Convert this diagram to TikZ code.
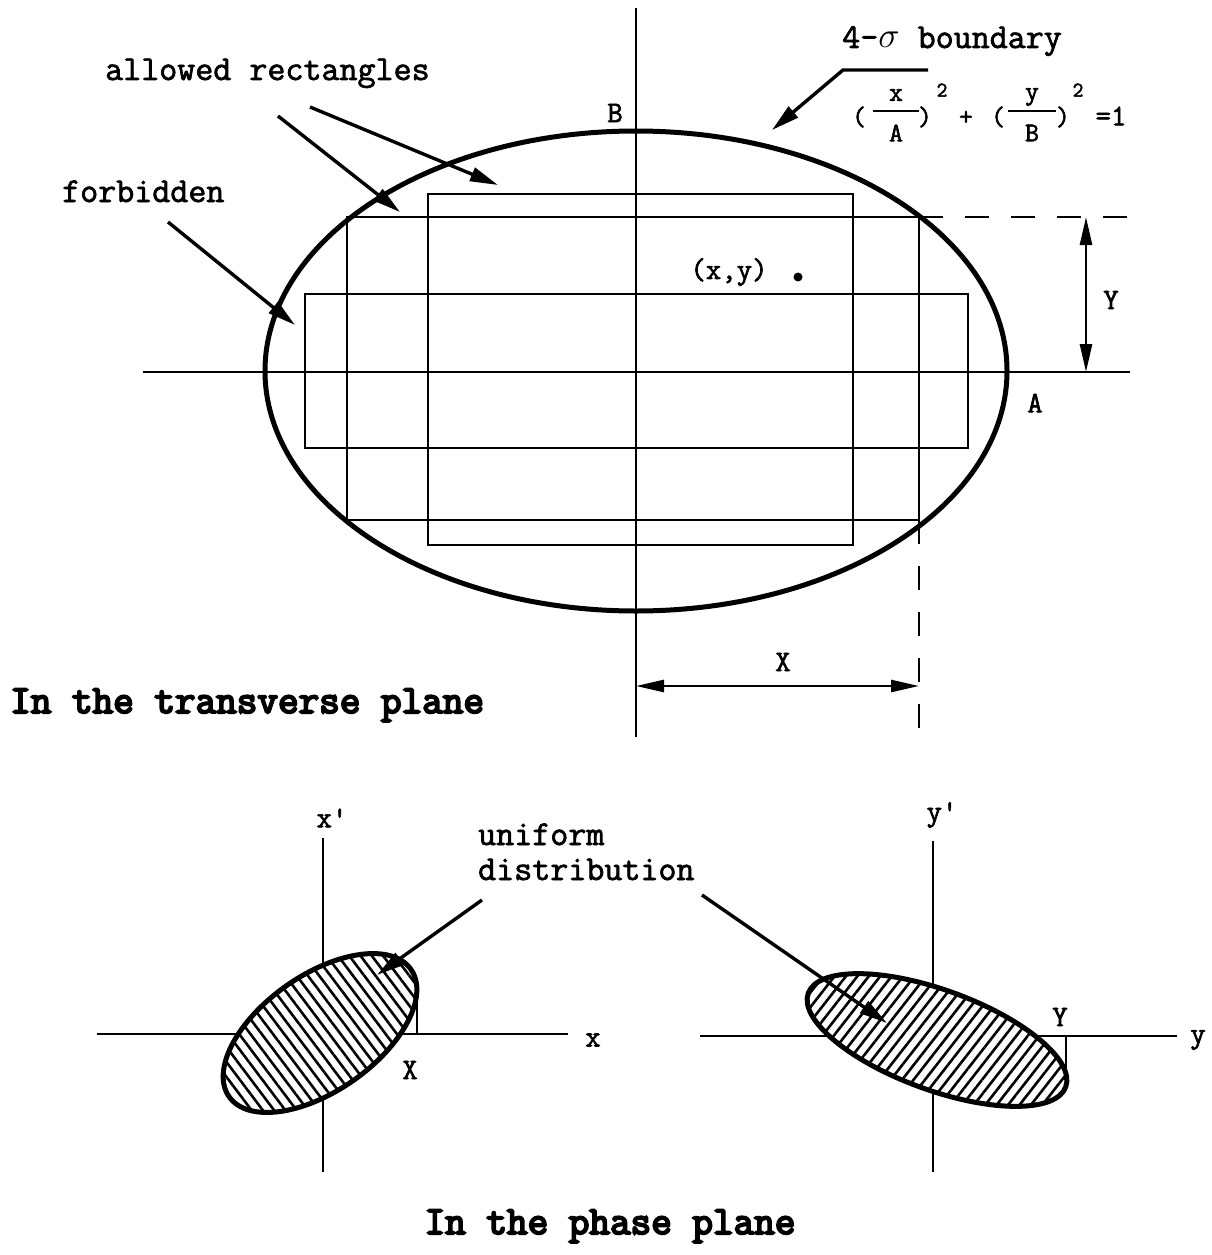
\documentclass[tikz,border=0pt]{standalone}
\usepackage{fontspec}
\newfontfamily\typefont{Latin Modern Mono}[FakeBold=2]
\newfontfamily\headfont{Latin Modern Mono}[FakeBold=5]
\usetikzlibrary{arrows.meta,shapes.geometric,patterns.meta,positioning}

\begin{document}
\begin{tikzpicture}[x=1pt, y=-1pt,
    ax/.style={line width=2.6pt},
    bnd/.style={line width=5pt},
    lead/.style={line width=3.4pt, -{Triangle[length=28pt, width=14pt]}},
    dim/.style={line width=2.6pt, {Triangle[length=28pt, width=12pt]}-{Triangle[length=28pt, width=12pt]}},
    dsh/.style={line width=2.6pt, dash pattern=on 24pt off 22pt},
    lbl/.style={font={\typefont\fontsize{35}{31}\selectfont}, inner sep=0pt},
    let/.style={font={\typefont\fontsize{30}{34}\selectfont}, inner sep=0pt},
    fml/.style={font={\typefont\fontsize{27}{30}\selectfont}, inner sep=0pt},
    expo/.style={font={\typefont\fontsize{21}{24}\selectfont}, inner sep=0pt},
    ttl/.style={font={\headfont\fontsize{40}{44}\selectfont}, inner sep=0pt},
    hatch/.style={ellipse, draw, line width=5pt, inner sep=0pt, preaction={fill=white}}
]
\useasboundingbox (0,0) rectangle (1211,1255);

% transverse plane
\draw[ax] (636,8) -- (636,737);
\draw[ax] (143,372) -- (1130,372);
\draw[ax] (305,294) rectangle (968,448);
\draw[ax] (347,217) rectangle (919,520);
\draw[ax] (428,194) rectangle (853,545);
\draw[bnd] (636,371) ellipse [x radius=371, y radius=240];
\draw[dsh] (919,217) -- (1130,217);
\draw[dsh] (919,520) -- (919,737);

\node[lbl, anchor=base west] (allow) at (105,80) {allowed rectangles};
\node[lbl, anchor=base west] (forb) at (62,202) {forbidden};
\node[lbl, anchor=base west] (bound) at (842,48) {4-\scalebox{1.45}{$\sigma$} boundary};
\node[let] (lB) at (615,113) {B};
\node[let] (lA) at (1035,403) {A};
\node[let] (lY) at (1111,300) {Y};
\node[let] (lX) at (783,662) {X};
\node[let] (pxy) at (729,272) {(x,y)};
\node[circle, fill, inner sep=0pt, minimum size=9pt] (dot) at (798,277) {};
\node[ttl, anchor=base west] (tplane) at (10,713) {In the transverse plane};

% (x/A)^2 + (y/B)^2 = 1
\node[fml] (lp1) at (859,117) {(};
\node[fml] (nx) at (896,95) {x};
\node[fml] (dA) at (896,133) {A};
\node[fml] (rp1) at (925,117) {)};
\node[expo] (e1) at (942,90) {2};
\node[fml] (pls) at (966,118) {+};
\node[fml] (lp2) at (998,117) {(};
\node[fml] (ny) at (1032,97) {y};
\node[fml] (dB) at (1032,133) {B};
\node[fml] (rp2) at (1063,117) {)};
\node[expo] (e2) at (1078,90) {2};
\node[let] (eq) at (1111,116) {=1};
\draw[ax] (873,111) -- (919,111);
\draw[ax] (1008,111) -- (1056,111);

\coordinate (forbT) at (168,222);  \coordinate (forbH) at (295,325);
\coordinate (al1T) at (278,116);   \coordinate (al1H) at (400,212);
\coordinate (al2T) at (310,107);   \coordinate (al2H) at (498,185);
\coordinate (bdT) at (928,70);     \coordinate (bdK) at (843,70);
\coordinate (bdH) at (772,130);
\coordinate (yTop) at (1086,217);  \coordinate (yBot) at (1086,372);
\coordinate (xL) at (636,686);     \coordinate (xR) at (919,686);

\draw[lead] (forbT) -- (forbH);
\draw[lead] (al1T) -- (al1H);
\draw[lead] (al2T) -- (al2H);
\draw[lead] (bdT) -- (bdK) -- (bdH);
\draw[dim] (yTop) -- (yBot);
\draw[dim] (xL) -- (xR);

% phase plane
\draw[ax] (323,838) -- (323,1172);
\draw[ax] (97,1034) -- (568,1034);
\draw[ax] (933,841) -- (933,1172);
\draw[ax] (700,1036) -- (1177,1036);
\node[hatch, minimum width=222pt, minimum height=116pt, rotate=35,
      pattern={Lines[angle=-53, distance=9pt, line width=2.6pt]}] (phx) at (320,1033) {};
\node[hatch, minimum width=274pt, minimum height=100pt, rotate=-20,
      pattern={Lines[angle=52, distance=9pt, line width=2.6pt]}] (phy) at (937,1040) {};
\draw[ax] (417,996) -- (417,1034);
\draw[ax] (1066,1036) -- (1066,1072);

\node[let] (lxp) at (332,818) {x'};
\node[let] (lyp) at (942,815) {y'};
\node[let] (lx) at (593,1040) {x};
\node[let] (ly) at (1198,1040) {y};
\node[let] (lXp) at (410,1070) {X};
\node[let] (lYp) at (1060,1017) {Y};
\node[lbl, anchor=base west] (uni) at (478,845) {uniform};
\node[lbl, anchor=base west] (dist) at (478,880) {distribution};
\node[ttl, anchor=base] (pplane) at (610,1234) {In the phase plane};

\coordinate (unLT) at (482,900);   \coordinate (unLH) at (377,975);
\coordinate (unRT) at (702,895);   \coordinate (unRH) at (887,1023);
\draw[lead] (unLT) -- (unLH);
\draw[lead] (unRT) -- (unRH);
\end{tikzpicture}
\end{document}
